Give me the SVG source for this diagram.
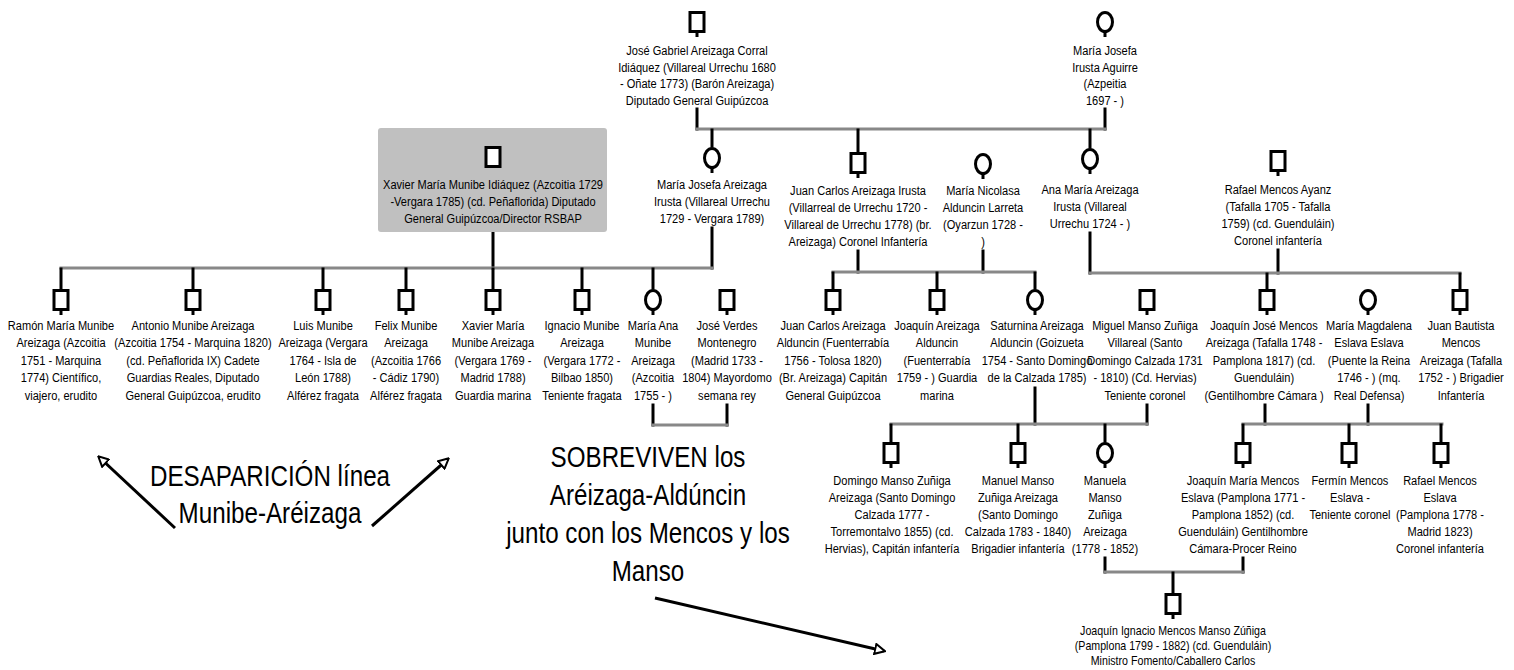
<svg xmlns="http://www.w3.org/2000/svg" width="1514" height="670" viewBox="0 0 1514 670">
  <style>
    .t { font-family: "Liberation Sans", Arial, sans-serif; font-size: 13.5px; fill: #000; text-anchor: middle; }
    .big { font-family: "Liberation Sans", Arial, sans-serif; font-size: 29.5px; fill: #000; text-anchor: middle; }
    .h { stroke: #888; stroke-width: 3; fill: none; stroke-linecap: square; }
    .v { stroke: #000; stroke-width: 3; fill: none; stroke-linecap: square; }
    .sym { fill: #fff; stroke: #000; stroke-width: 3; }
    .arr { stroke: #000; stroke-width: 3; fill: none; }
  </style>
  <defs>
    <!-- male symbol with short stem -->
    <g id="sq">
      <rect class="sym" x="-7" y="1.5" width="14" height="19"/>
      <line x1="0" y1="22" x2="0" y2="26" stroke="#000" stroke-width="3"/>
    </g>
    <!-- male symbol without stem -->
    <g id="sq0">
      <rect class="sym" x="-7" y="1.5" width="14" height="19"/>
    </g>
    <!-- female symbol with short stem -->
    <g id="ci">
      <ellipse class="sym" cx="0" cy="11" rx="7.5" ry="9.5"/>
      <line x1="0" y1="22" x2="0" y2="26" stroke="#000" stroke-width="3"/>
    </g>
    <marker id="ah" viewBox="0 0 12 12" refX="10" refY="6" markerWidth="4" markerHeight="4" orient="auto" markerUnits="strokeWidth">
      <path d="M1,1 L11,6 L1,11 z" fill="#fff" stroke="#000" stroke-width="2"/>
    </marker>
  </defs>

  <!-- connectors -->
  <g id="connectors">
    <!-- generation 1 -->
    <line class="v" x1="697" y1="109" x2="697" y2="129"/>
    <line class="v" x1="1105" y1="109" x2="1105" y2="129"/>
    <line class="h" x1="697" y1="129" x2="1105" y2="129"/>
    <line class="v" x1="712" y1="130" x2="712" y2="146"/>
    <line class="v" x1="858" y1="130" x2="858" y2="151"/>
    <line class="v" x1="1090" y1="130" x2="1090" y2="147"/>
    <!-- Munibe family -->
    <line class="v" x1="493" y1="233" x2="493" y2="268"/>
    <line class="v" x1="712" y1="228" x2="712" y2="268"/>
    <line class="h" x1="61" y1="268" x2="712" y2="268"/>
    <line class="v" x1="61" y1="269" x2="61" y2="288"/>
    <line class="v" x1="193" y1="269" x2="193" y2="288"/>
    <line class="v" x1="323" y1="269" x2="323" y2="288"/>
    <line class="v" x1="406" y1="269" x2="406" y2="288"/>
    <line class="v" x1="493" y1="269" x2="493" y2="288"/>
    <line class="v" x1="582" y1="269" x2="582" y2="288"/>
    <line class="v" x1="653" y1="269" x2="653" y2="288"/>
    <!-- Areizaga Alduncin family -->
    <line class="v" x1="858" y1="251" x2="858" y2="272"/>
    <line class="v" x1="983" y1="251" x2="983" y2="272"/>
    <line class="h" x1="833" y1="272" x2="1035" y2="272"/>
    <line class="v" x1="833" y1="273" x2="833" y2="288"/>
    <line class="v" x1="937" y1="273" x2="937" y2="288"/>
    <line class="v" x1="1035" y1="273" x2="1035" y2="288"/>
    <!-- Mencos Areizaga family -->
    <line class="v" x1="1090" y1="233" x2="1090" y2="273"/>
    <line class="v" x1="1278" y1="250" x2="1278" y2="273"/>
    <line class="h" x1="1090" y1="273" x2="1460" y2="273"/>
    <line class="v" x1="1267" y1="274" x2="1267" y2="288"/>
    <line class="v" x1="1460" y1="274" x2="1460" y2="288"/>
    <!-- Verdes Montenegro marriage -->
    <line class="v" x1="653" y1="405" x2="653" y2="425"/>
    <line class="v" x1="727" y1="405" x2="727" y2="425"/>
    <line class="h" x1="653" y1="425" x2="727" y2="425"/>
    <!-- Manso Zuñiga family -->
    <line class="v" x1="1035" y1="388" x2="1035" y2="424"/>
    <line class="v" x1="1147" y1="405" x2="1147" y2="424"/>
    <line class="h" x1="891" y1="424" x2="1147" y2="424"/>
    <line class="v" x1="891" y1="425" x2="891" y2="441"/>
    <line class="v" x1="1018" y1="425" x2="1018" y2="441"/>
    <line class="v" x1="1105" y1="425" x2="1105" y2="441"/>
    <!-- Mencos Eslava family -->
    <line class="v" x1="1265" y1="405" x2="1265" y2="424"/>
    <line class="v" x1="1368" y1="405" x2="1368" y2="424"/>
    <line class="h" x1="1243" y1="424" x2="1442" y2="424"/>
    <line class="v" x1="1243" y1="425" x2="1243" y2="441"/>
    <line class="v" x1="1349" y1="425" x2="1349" y2="441"/>
    <line class="v" x1="1441" y1="425" x2="1441" y2="441"/>
    <!-- Mencos Manso family -->
    <line class="v" x1="1105" y1="558" x2="1105" y2="572"/>
    <line class="v" x1="1243" y1="558" x2="1243" y2="572"/>
    <line class="h" x1="1105" y1="572" x2="1243" y2="572"/>
    <line class="v" x1="1173" y1="573" x2="1173" y2="592"/>
  </g>

  <!-- generation 1 -->
  <g id="jose-gabriel">
    <use href="#sq" x="697" y="11"/>
    <text class="t" transform="matrix(.82 0 0 1 697 0)"><tspan x="0" y="55">José Gabriel Areizaga Corral</tspan><tspan x="0" y="72">Idiáquez (Villareal Urrechu 1680</tspan><tspan x="0" y="88">- Oñate 1773) (Barón Areizaga)</tspan><tspan x="0" y="105">Diputado General Guipúzcoa</tspan></text>
  </g>
  <g id="maria-josefa-irusta">
    <use href="#ci" x="1105" y="11"/>
    <text class="t" transform="matrix(.82 0 0 1 1105 0)"><tspan x="0" y="55">María Josefa</tspan><tspan x="0" y="72">Irusta Aguirre</tspan><tspan x="0" y="88">(Azpeitia</tspan><tspan x="0" y="105">1697 - )</tspan></text>
  </g>

  <!-- generation 2 -->
  <g id="xavier-maria-munibe">
    <rect x="378" y="128" width="229" height="104" rx="3" fill="#c0c0c0"/>
    <use href="#sq0" x="493" y="146"/>
    <text class="t" transform="matrix(.82 0 0 1 493 0)"><tspan x="0" y="189">Xavier María Munibe Idiáquez (Azcoitia 1729</tspan><tspan x="0" y="206">-Vergara 1785) (cd. Peñaflorida) Diputado</tspan><tspan x="0" y="223">General Guipúzcoa/Director RSBAP</tspan></text>
  </g>
  <g id="maria-josefa-areizaga">
    <use href="#ci" x="712" y="147"/>
    <text class="t" transform="matrix(.82 0 0 1 712 0)"><tspan x="0" y="189">María Josefa Areizaga</tspan><tspan x="0" y="206">Irusta (Villareal Urrechu</tspan><tspan x="0" y="223">1729 - Vergara 1789)</tspan></text>
  </g>
  <g id="juan-carlos-areizaga-irusta">
    <use href="#sq" x="858" y="152"/>
    <text class="t" transform="matrix(.82 0 0 1 858 0)"><tspan x="0" y="195">Juan Carlos Areizaga Irusta</tspan><tspan x="0" y="212">(Villarreal de Urrechu 1720 -</tspan><tspan x="0" y="229">Villareal de Urrechu 1778) (br.</tspan><tspan x="0" y="246">Areizaga) Coronel Infantería</tspan></text>
  </g>
  <g id="maria-nicolasa-alduncin">
    <use href="#ci" x="983" y="153"/>
    <text class="t" transform="matrix(.82 0 0 1 983 0)"><tspan x="0" y="195">María Nicolasa</tspan><tspan x="0" y="212">Alduncin Larreta</tspan><tspan x="0" y="229">(Oyarzun 1728 -</tspan><tspan x="0" y="246">)</tspan></text>
  </g>
  <g id="ana-maria-areizaga">
    <use href="#ci" x="1090" y="148"/>
    <text class="t" transform="matrix(.82 0 0 1 1090 0)"><tspan x="0" y="194">Ana María Areizaga</tspan><tspan x="0" y="211">Irusta (Villareal</tspan><tspan x="0" y="228">Urrechu 1724 - )</tspan></text>
  </g>
  <g id="rafael-mencos-ayanz">
    <use href="#sq" x="1278" y="150"/>
    <text class="t" transform="matrix(.82 0 0 1 1278 0)"><tspan x="0" y="194">Rafael Mencos Ayanz</tspan><tspan x="0" y="211">(Tafalla 1705 - Tafalla</tspan><tspan x="0" y="228">1759) (cd. Guenduláin)</tspan><tspan x="0" y="245">Coronel infantería</tspan></text>
  </g>

  <!-- generation 3 -->
  <g id="ramon-maria-munibe">
    <use href="#sq" x="61" y="289"/>
    <text class="t" transform="matrix(.82 0 0 1 61 0)"><tspan x="0" y="330">Ramón María Munibe</tspan><tspan x="0" y="347.5">Areizaga (Azcoitia</tspan><tspan x="0" y="365">1751 - Marquina</tspan><tspan x="0" y="382.5">1774) Científico,</tspan><tspan x="0" y="400">viajero, erudito</tspan></text>
  </g>
  <g id="antonio-munibe">
    <use href="#sq" x="193" y="289"/>
    <text class="t" transform="matrix(.82 0 0 1 193 0)"><tspan x="0" y="330">Antonio Munibe Areizaga</tspan><tspan x="0" y="347.5">(Azcoitia 1754 - Marquina 1820)</tspan><tspan x="0" y="365">(cd. Peñaflorida IX) Cadete</tspan><tspan x="0" y="382.5">Guardias Reales, Diputado</tspan><tspan x="0" y="400">General Guipúzcoa, erudito</tspan></text>
  </g>
  <g id="luis-munibe">
    <use href="#sq" x="323" y="289"/>
    <text class="t" transform="matrix(.82 0 0 1 323 0)"><tspan x="0" y="330">Luis Munibe</tspan><tspan x="0" y="347.5">Areizaga (Vergara</tspan><tspan x="0" y="365">1764 - Isla de</tspan><tspan x="0" y="382.5">León 1788)</tspan><tspan x="0" y="400">Alférez fragata</tspan></text>
  </g>
  <g id="felix-munibe">
    <use href="#sq" x="406" y="289"/>
    <text class="t" transform="matrix(.82 0 0 1 406 0)"><tspan x="0" y="330">Felix Munibe</tspan><tspan x="0" y="347.5">Areizaga</tspan><tspan x="0" y="365">(Azcoitia 1766</tspan><tspan x="0" y="382.5">- Cádiz 1790)</tspan><tspan x="0" y="400">Alférez fragata</tspan></text>
  </g>
  <g id="xavier-maria-munibe-areizaga">
    <use href="#sq" x="493" y="289"/>
    <text class="t" transform="matrix(.82 0 0 1 493 0)"><tspan x="0" y="330">Xavier María</tspan><tspan x="0" y="347.5">Munibe Areizaga</tspan><tspan x="0" y="365">(Vergara 1769 -</tspan><tspan x="0" y="382.5">Madrid 1788)</tspan><tspan x="0" y="400">Guardia marina</tspan></text>
  </g>
  <g id="ignacio-munibe">
    <use href="#sq" x="582" y="289"/>
    <text class="t" transform="matrix(.82 0 0 1 582 0)"><tspan x="0" y="330">Ignacio Munibe</tspan><tspan x="0" y="347.5">Areizaga</tspan><tspan x="0" y="365">(Vergara 1772 -</tspan><tspan x="0" y="382.5">Bilbao 1850)</tspan><tspan x="0" y="400">Teniente fragata</tspan></text>
  </g>
  <g id="maria-ana-munibe">
    <use href="#ci" x="653" y="289"/>
    <text class="t" transform="matrix(.82 0 0 1 653 0)"><tspan x="0" y="330">María Ana</tspan><tspan x="0" y="347.5">Munibe</tspan><tspan x="0" y="365">Areizaga</tspan><tspan x="0" y="382.5">(Azcoitia</tspan><tspan x="0" y="400">1755 - )</tspan></text>
  </g>
  <g id="jose-verdes-montenegro">
    <use href="#sq" x="727" y="289"/>
    <text class="t" transform="matrix(.82 0 0 1 727 0)"><tspan x="0" y="330">José Verdes</tspan><tspan x="0" y="347.5">Montenegro</tspan><tspan x="0" y="365">(Madrid 1733 -</tspan><tspan x="0" y="382.5">1804) Mayordomo</tspan><tspan x="0" y="400">semana rey</tspan></text>
  </g>
  <g id="juan-carlos-areizaga-alduncin">
    <use href="#sq" x="833" y="289"/>
    <text class="t" transform="matrix(.82 0 0 1 833 0)"><tspan x="0" y="330">Juan Carlos Areizaga</tspan><tspan x="0" y="347.5">Alduncin (Fuenterrabía</tspan><tspan x="0" y="365">1756 - Tolosa 1820)</tspan><tspan x="0" y="382.5">(Br. Areizaga) Capitán</tspan><tspan x="0" y="400">General Guipúzcoa</tspan></text>
  </g>
  <g id="joaquin-areizaga-alduncin">
    <use href="#sq" x="937" y="289"/>
    <text class="t" transform="matrix(.82 0 0 1 937 0)"><tspan x="0" y="330">Joaquín Areizaga</tspan><tspan x="0" y="347.5">Alduncin</tspan><tspan x="0" y="365">(Fuenterrabía</tspan><tspan x="0" y="382.5">1759 - ) Guardia</tspan><tspan x="0" y="400">marina</tspan></text>
  </g>
  <g id="saturnina-areizaga-alduncin">
    <use href="#ci" x="1035" y="289"/>
    <text class="t" transform="matrix(.82 0 0 1 1037 0)"><tspan x="0" y="330">Saturnina Areizaga</tspan><tspan x="0" y="347.5">Alduncin (Goizueta</tspan><tspan x="0" y="365">1754 - Santo Domingo</tspan><tspan x="0" y="382.5">de la Calzada 1785)</tspan></text>
  </g>
  <g id="miguel-manso-zuniga">
    <use href="#sq" x="1147" y="289"/>
    <text class="t" transform="matrix(.82 0 0 1 1145 0)"><tspan x="0" y="330">Miguel Manso Zuñiga</tspan><tspan x="0" y="347.5">Villareal (Santo</tspan><tspan x="0" y="365">Domingo Calzada 1731</tspan><tspan x="0" y="382.5">- 1810) (Cd. Hervias)</tspan><tspan x="0" y="400">Teniente coronel</tspan></text>
  </g>
  <g id="joaquin-jose-mencos">
    <use href="#sq" x="1267" y="289"/>
    <text class="t" transform="matrix(.82 0 0 1 1264 0)"><tspan x="0" y="330">Joaquín José Mencos</tspan><tspan x="0" y="347.5">Areizaga (Tafalla 1748 -</tspan><tspan x="0" y="365">Pamplona 1817) (cd.</tspan><tspan x="0" y="382.5">Guenduláin)</tspan><tspan x="0" y="400">(Gentilhombre Cámara )</tspan></text>
  </g>
  <g id="maria-magdalena-eslava">
    <use href="#ci" x="1368" y="289"/>
    <text class="t" transform="matrix(.82 0 0 1 1369 0)"><tspan x="0" y="330">María Magdalena</tspan><tspan x="0" y="347.5">Eslava Eslava</tspan><tspan x="0" y="365">(Puente la Reina</tspan><tspan x="0" y="382.5">1746 - ) (mq.</tspan><tspan x="0" y="400">Real Defensa)</tspan></text>
  </g>
  <g id="juan-bautista-mencos">
    <use href="#sq" x="1460" y="289"/>
    <text class="t" transform="matrix(.82 0 0 1 1461 0)"><tspan x="0" y="330">Juan Bautista</tspan><tspan x="0" y="347.5">Mencos</tspan><tspan x="0" y="365">Areizaga (Tafalla</tspan><tspan x="0" y="382.5">1752 - ) Brigadier</tspan><tspan x="0" y="400">Infantería</tspan></text>
  </g>

  <!-- generation 4 -->
  <g id="domingo-manso-zuniga">
    <use href="#sq" x="891" y="442"/>
    <text class="t" transform="matrix(.82 0 0 1 892 0)"><tspan x="0" y="485">Domingo Manso Zuñiga</tspan><tspan x="0" y="502">Areizaga (Santo Domingo</tspan><tspan x="0" y="519">Calzada 1777 -</tspan><tspan x="0" y="536">Torremontalvo 1855) (cd.</tspan><tspan x="0" y="553">Hervias), Capitán infantería</tspan></text>
  </g>
  <g id="manuel-manso-zuniga">
    <use href="#sq" x="1018" y="442"/>
    <text class="t" transform="matrix(.82 0 0 1 1018 0)"><tspan x="0" y="485">Manuel Manso</tspan><tspan x="0" y="502">Zuñiga Areizaga</tspan><tspan x="0" y="519">(Santo Domingo</tspan><tspan x="0" y="536">Calzada 1783 - 1840)</tspan><tspan x="0" y="553">Brigadier infantería</tspan></text>
  </g>
  <g id="manuela-manso-zuniga">
    <use href="#ci" x="1105" y="442"/>
    <text class="t" transform="matrix(.82 0 0 1 1105 0)"><tspan x="0" y="485">Manuela</tspan><tspan x="0" y="502">Manso</tspan><tspan x="0" y="519">Zuñiga</tspan><tspan x="0" y="536">Areizaga</tspan><tspan x="0" y="553">(1778 - 1852)</tspan></text>
  </g>
  <g id="joaquin-maria-mencos">
    <use href="#sq" x="1243" y="442"/>
    <text class="t" transform="matrix(.82 0 0 1 1243 0)"><tspan x="0" y="485">Joaquín María Mencos</tspan><tspan x="0" y="502">Eslava (Pamplona 1771 -</tspan><tspan x="0" y="519">Pamplona 1852) (cd.</tspan><tspan x="0" y="536">Guenduláin) Gentilhombre</tspan><tspan x="0" y="553">Cámara-Procer Reino</tspan></text>
  </g>
  <g id="fermin-mencos">
    <use href="#sq" x="1349" y="442"/>
    <text class="t" transform="matrix(.82 0 0 1 1350 0)"><tspan x="0" y="485">Fermín Mencos</tspan><tspan x="0" y="502">Eslava -</tspan><tspan x="0" y="519">Teniente coronel</tspan></text>
  </g>
  <g id="rafael-mencos-eslava">
    <use href="#sq" x="1441" y="442"/>
    <text class="t" transform="matrix(.82 0 0 1 1440 0)"><tspan x="0" y="485">Rafael Mencos</tspan><tspan x="0" y="502">Eslava</tspan><tspan x="0" y="519">(Pamplona 1778 -</tspan><tspan x="0" y="536">Madrid 1823)</tspan><tspan x="0" y="553">Coronel infantería</tspan></text>
  </g>

  <!-- generation 5 -->
  <g id="joaquin-ignacio-mencos">
    <use href="#sq" x="1173" y="593"/>
    <text class="t" style="font-size:13px" transform="matrix(.82 0 0 1 1173 0)"><tspan x="0" y="635">Joaquín Ignacio Mencos Manso Zúñiga</tspan><tspan x="0" y="650">(Pamplona 1799 - 1882) (cd. Guenduláin)</tspan><tspan x="0" y="665">Ministro Fomento/Caballero Carlos</tspan></text>
  </g>

  <!-- notes -->
  <g id="note-desaparicion">
    <text class="big" transform="matrix(.82 0 0 1 270 0)"><tspan x="0" y="486">DESAPARICIÓN línea</tspan><tspan x="0" y="523">Munibe-Aréizaga</tspan></text>
    <line class="arr" x1="175" y1="528" x2="99" y2="457" marker-end="url(#ah)"/>
    <line class="arr" x1="372" y1="526" x2="448" y2="459" marker-end="url(#ah)"/>
  </g>
  <g id="note-sobreviven">
    <text class="big" transform="matrix(.82 0 0 1 648 0)"><tspan x="0" y="467">SOBREVIVEN los</tspan><tspan x="0" y="505">Aréizaga-Aldúncin</tspan><tspan x="0" y="543">junto con los Mencos y los</tspan><tspan x="0" y="581">Manso</tspan></text>
    <line class="arr" x1="655" y1="598" x2="884" y2="651" marker-end="url(#ah)"/>
  </g>
</svg>
